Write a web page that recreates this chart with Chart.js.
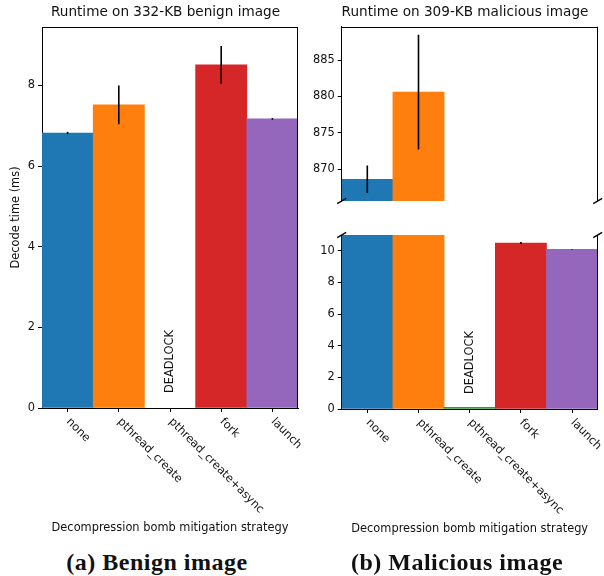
<!DOCTYPE html>
<html><head><meta charset="utf-8">
<script src="https://cdn.jsdelivr.net/npm/chart.js@4.4.1/dist/chart.umd.min.js"></script>
<style>
html,body{margin:0;padding:0;background:#fff;width:604px;height:576px;overflow:hidden;position:relative;}
canvas{position:absolute;}
.cap{position:absolute;top:548px;font-family:'Liberation Serif','DejaVu Serif',serif;font-weight:bold;font-size:24px;letter-spacing:0.5px;line-height:28px;color:#111;text-align:center;white-space:nowrap;width:300px;}
</style></head><body>
<canvas id="a" width="331" height="540" style="left:0;top:0"></canvas>
<canvas id="b" width="330" height="212" style="left:300px;top:0"></canvas>
<canvas id="c" width="304" height="320" style="left:300px;top:220px"></canvas>
<div class="cap" style="left:7px">(a) Benign image</div>
<div class="cap" style="left:307px">(b) Malicious image</div>
<script>
// ---- data ----
const categories = ['none', 'pthread_create', 'pthread_create+async', 'fork', 'launch'];
const barColors = ['#1f77b4', '#ff7f0e', '#2ca02c', '#d62728', '#9467bd'];
const benignValues = [6.82, 7.52, null, 8.51, 7.17];
const benignErrors = [0.03, 0.48, 0, 0.47, 0.02];
const maliciousValues = [868.6, 880.6, 0, 10.49, 10.10];
const maliciousErrors = [1.9, 7.9, 0, 0.06, 0.02];
const benignTicks = [0, 2, 4, 6, 8];
const maliciousTopTicks = [870, 875, 880, 885];
const maliciousBottomTicks = [0, 2, 4, 6, 8, 10];
const benignRange = [0, 9.45];
const maliciousTopRange = [865.6, 889.6];
const maliciousBottomRange = [0, 11];
const deadlockLabel = 'DEADLOCK';
const deadlockIndex = 2;
const titles = ['Runtime on 332-KB benign image', 'Runtime on 309-KB malicious image'];
const xTitle = 'Decompression bomb mitigation strategy';
const yTitle = 'Decode time (ms)';

const FONT = "'DejaVu Sans', sans-serif";
const FS = 11.4;
const TXT = '#111';

const decor = {
  id: 'decor',
  afterDatasetsDraw(chart, args, o) {
    const {ctx, chartArea: ca, scales: {x, y}} = chart;
    const vals = chart.data.datasets[0].data;
    ctx.save();
    ctx.beginPath(); ctx.rect(ca.left, ca.top, ca.right - ca.left, ca.bottom - ca.top); ctx.clip();
    ctx.strokeStyle = '#000'; ctx.lineWidth = 1.6;
    (o.errors || []).forEach((e, i) => {
      if (!e || vals[i] == null) return;
      const px = x.getPixelForValue(i);
      ctx.beginPath();
      ctx.moveTo(px, y.getPixelForValue(vals[i] - e));
      ctx.lineTo(px, y.getPixelForValue(vals[i] + e));
      ctx.stroke();
    });
    ctx.restore();
    if (o.deadlock) {
      ctx.save();
      ctx.font = FS + 'px ' + FONT; ctx.fillStyle = TXT;
      ctx.translate(x.getPixelForValue(deadlockIndex), ca.bottom - 15);
      ctx.rotate(-Math.PI / 2);
      ctx.textAlign = 'left'; ctx.textBaseline = 'middle';
      ctx.fillText(deadlockLabel, 0, 0);
      ctx.restore();
    }
    ctx.save();
    ctx.strokeStyle = '#000'; ctx.lineWidth = 1;
    const R = Math.round(ca.right) - 0.5;
    const T = Math.round(ca.top) + 0.5;
    if (o.spineTop) { ctx.beginPath(); ctx.moveTo(ca.left, T); ctx.lineTo(ca.right, T); ctx.stroke(); }
    if (o.spineRight) { ctx.beginPath(); ctx.moveTo(R, ca.top); ctx.lineTo(R, ca.bottom); ctx.stroke(); }
    ctx.lineWidth = 1.3;
    const mark = (cx, cy) => { ctx.beginPath(); ctx.moveTo(cx - 4.5, cy + 2.6); ctx.lineTo(cx + 4.5, cy - 2.6); ctx.stroke(); };
    if (o.breakBottom) { mark(ca.left, ca.bottom); mark(ca.right, ca.bottom); }
    if (o.breakTop) { mark(ca.left, ca.top); mark(ca.right, ca.top); }
    ctx.restore();
  },
  afterDraw(chart, args, o) {
    if (!o.xLabels) return;
    const {ctx, chartArea: ca, scales: {x}} = chart;
    ctx.save();
    ctx.font = FS + 'px ' + FONT; ctx.fillStyle = TXT;
    ctx.textAlign = 'left'; ctx.textBaseline = 'top';
    chart.data.labels.forEach((lab, i) => {
      ctx.save();
      ctx.translate(x.getPixelForValue(i) + 4.5, ca.bottom + 8);
      ctx.rotate(Math.PI / 4);
      ctx.fillText(lab, 0, 0);
      ctx.restore();
    });
    ctx.restore();
  }
};

function yScale(range, ticks, opts) {
  return Object.assign({
    type: 'linear', min: range[0], max: range[1],
    afterBuildTicks: s => { s.ticks = ticks.map(v => ({value: v})); },
    grid: {drawOnChartArea: false, tickLength: 4, tickColor: '#000', tickWidth: 1},
    border: {color: '#000', width: 1},
    ticks: {font: {family: FONT, size: FS}, color: TXT, padding: 3}
  }, opts);
}
// invisible right-hand spacer axis so that the title centre matches the reference
function spacer(w) {
  return {position: 'right', display: true, grid: {display: false}, border: {display: false},
    ticks: {display: false}, afterFit: s => { s.width = w; }};
}
function xScale(opts) {
  return Object.assign({
    type: 'category', offset: true,
    grid: {display: true, drawOnChartArea: false, offset: false, tickLength: 4, tickColor: '#000', tickWidth: 1},
    border: {color: '#000', width: 1},
    ticks: {display: false}
  }, opts);
}
function dataset(values, minLen) {
  return {data: values, backgroundColor: barColors, borderWidth: 0,
    barPercentage: 1, categoryPercentage: 1, minBarLength: minLen || 0};
}
const common = {responsive: false, animation: false, events: []};

// (a) benign
new Chart(document.getElementById('a'), {
  type: 'bar',
  data: {labels: categories, datasets: [dataset(benignValues)]},
  options: Object.assign({}, common, {
    layout: {padding: {left: 0, right: 0, top: 0, bottom: 0}},
    scales: {
      x: xScale({
        afterFit: s => { s.height = 132; },
        title: {display: true, text: xTitle, font: {family: FONT, size: FS}, color: TXT, padding: {top: 0, bottom: 5.2}}
      }),
      y: yScale(benignRange, benignTicks, {
        afterFit: s => { s.width = 42; },
        title: {display: true, text: yTitle, font: {family: FONT, size: FS}, color: TXT, padding: {top: 9.2, bottom: 0}}
      }),
      y2: spacer(33)
    },
    plugins: {
      legend: {display: false}, tooltip: {enabled: false},
      title: {display: true, text: titles[0], font: {family: FONT, size: 13.6, weight: 'normal'}, color: TXT, padding: {top: 4.5, bottom: 6.18}},
      decor: {errors: benignErrors, deadlock: true, spineTop: true, spineRight: true, xLabels: true}
    }
  }),
  plugins: [decor]
});

// (b) malicious, upper part of the broken axis
new Chart(document.getElementById('b'), {
  type: 'bar',
  data: {labels: categories, datasets: [dataset(maliciousValues)]},
  options: Object.assign({}, common, {
    layout: {padding: {left: 0, right: 0, top: 0, bottom: 11}},
    scales: {
      x: xScale({display: false}),
      y: yScale(maliciousTopRange, maliciousTopTicks, {afterFit: s => { s.width = 41.7; }}),
      y2: spacer(32.3)
    },
    plugins: {
      legend: {display: false}, tooltip: {enabled: false},
      title: {display: true, text: titles[1], font: {family: FONT, size: 13.6, weight: 'normal'}, color: TXT, padding: {top: 4.5, bottom: 5.88}},
      decor: {errors: maliciousErrors, spineTop: true, spineRight: true, breakBottom: true}
    }
  }),
  plugins: [decor]
});

// (b) malicious, lower part of the broken axis
new Chart(document.getElementById('c'), {
  type: 'bar',
  data: {labels: categories, datasets: [dataset(maliciousValues, 1.6)]},
  options: Object.assign({}, common, {
    layout: {padding: {left: 0, right: 6.3, top: 15, bottom: 0}},
    scales: {
      x: xScale({
        afterFit: s => { s.height = 131; },
        title: {display: true, text: xTitle, font: {family: FONT, size: FS}, color: TXT, padding: {top: 0, bottom: 4.2}}
      }),
      y: yScale(maliciousBottomRange, maliciousBottomTicks, {afterFit: s => { s.width = 41.7; }})
    },
    plugins: {
      legend: {display: false}, tooltip: {enabled: false},
      decor: {errors: maliciousErrors, deadlock: true, spineRight: true, breakTop: true, xLabels: true}
    }
  }),
  plugins: [decor]
});
</script>
</body></html>
